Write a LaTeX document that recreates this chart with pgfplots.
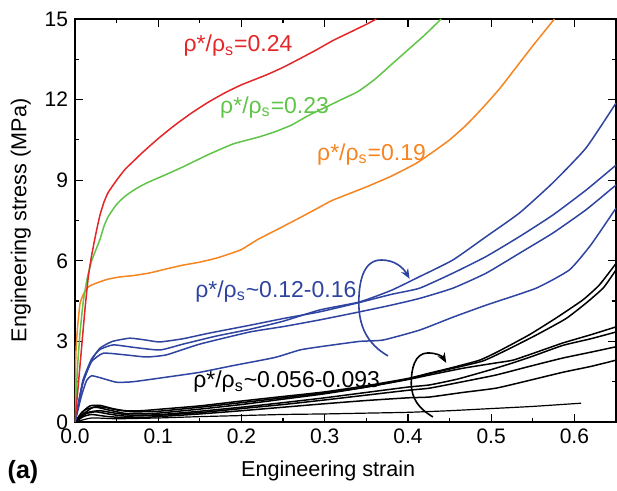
\documentclass[border=0pt]{standalone}
\usepackage{pgfplots}
\pgfplotsset{compat=1.18}
\usepackage{fontspec}
\setmainfont{Liberation Sans}
\usetikzlibrary{arrows.meta}
\definecolor{cred}{RGB}{228,38,40}
\definecolor{cgreen}{RGB}{96,196,72}
\definecolor{corange}{RGB}{246,132,32}
\definecolor{cblue}{RGB}{46,68,160}
\begin{document}
\begin{tikzpicture}
\begin{axis}[
  name=ax,
  scale only axis, width=270.5pt, height=201.5pt,
  xmin=0, xmax=0.65, ymin=0, ymax=15,
  xtick={0,0.1,0.2,0.3,0.4,0.5,0.6},
  ytick={0,3,6,9,12,15},
  minor x tick num=1, minor y tick num=1,
  tick align=inside,
  major tick length=4pt, minor tick length=2pt,
  axis line style={line width=0.8pt},
  every tick/.style={black, line width=0.6pt},
  /pgf/number format/assume math mode=true,
  xticklabel style={/pgf/number format/.cd, fixed, fixed zerofill, precision=1},
  yticklabel style={/pgf/number format/.cd, fixed, precision=0},
  every tick label/.append style={font=\fontsize{10.5}{12}\selectfont},
  xlabel={Engineering strain},
  ylabel={Engineering stress (MPa)},
  label style={font=\fontsize{10.8}{13}\selectfont},
  xlabel style={at={(axis description cs:0.468,-0.134)}, anchor=base},
  ylabel style={at={(axis description cs:-0.100,0.5)}, anchor=center},
  clip=true,
  every axis plot/.append style={line width=0.75pt, line join=round, smooth, tension=0.3},
]
% black curves
\addplot[black] coordinates {(0,0) (0.008,0.35) (0.018,0.6) (0.03,0.62) (0.045,0.5) (0.06,0.42) (0.08,0.42) (0.1,0.47) (0.15,0.6) (0.2,0.78) (0.25,0.95) (0.3,1.12) (0.35,1.35) (0.4,1.62) (0.426,1.82) (0.45,2.0) (0.486,2.3) (0.51,2.65) (0.546,3.25) (0.578,3.87) (0.61,4.54) (0.63,5.1) (0.65,5.9)};
\addplot[black] coordinates {(0,0) (0.01,0.3) (0.022,0.55) (0.035,0.55) (0.05,0.45) (0.07,0.38) (0.1,0.4) (0.15,0.55) (0.2,0.72) (0.25,0.9) (0.3,1.08) (0.35,1.3) (0.4,1.6) (0.426,1.8) (0.45,1.97) (0.49,2.27) (0.52,2.7) (0.555,3.25) (0.59,3.85) (0.615,4.45) (0.635,5.0) (0.65,5.66)};
\addplot[black] coordinates {(0,0) (0.012,0.45) (0.025,0.55) (0.04,0.45) (0.06,0.32) (0.08,0.3) (0.1,0.33) (0.15,0.48) (0.2,0.65) (0.25,0.85) (0.3,1.05) (0.35,1.3) (0.4,1.58) (0.426,1.75) (0.466,2.0) (0.506,2.2) (0.526,2.3) (0.55,2.55) (0.586,2.94) (0.62,3.25) (0.65,3.54)};
\addplot[black] coordinates {(0,0) (0.015,0.35) (0.03,0.42) (0.05,0.32) (0.07,0.25) (0.1,0.27) (0.15,0.4) (0.2,0.55) (0.25,0.72) (0.3,0.9) (0.35,1.1) (0.4,1.3) (0.426,1.38) (0.46,1.6) (0.5,1.95) (0.526,2.2) (0.55,2.45) (0.586,2.85) (0.62,3.1) (0.65,3.35)};
\addplot[black] coordinates {(0,0) (0.012,0.3) (0.025,0.38) (0.04,0.3) (0.06,0.22) (0.1,0.25) (0.15,0.35) (0.2,0.5) (0.25,0.65) (0.3,0.82) (0.35,1.0) (0.4,1.18) (0.426,1.26) (0.466,1.5) (0.506,1.75) (0.546,2.07) (0.586,2.38) (0.62,2.6) (0.65,2.8)};
\addplot[black] coordinates {(0,0) (0.01,0.2) (0.02,0.28) (0.04,0.2) (0.07,0.15) (0.1,0.2) (0.15,0.3) (0.2,0.42) (0.25,0.55) (0.3,0.68) (0.35,0.8) (0.4,0.9) (0.426,0.93) (0.466,1.1) (0.506,1.26) (0.546,1.55) (0.586,1.85) (0.62,2.07) (0.65,2.3)};
\addplot[black, line width=0.6pt] coordinates {(0,0) (0.02,0.15) (0.05,0.12) (0.1,0.15) (0.15,0.2) (0.2,0.24) (0.25,0.28) (0.3,0.3) (0.35,0.33) (0.4,0.36) (0.45,0.42) (0.5,0.5) (0.55,0.58) (0.608,0.7)};
% blue curves
\addplot[cblue] coordinates {(0,0) (0.005,0.8) (0.01,1.5) (0.02,2.3) (0.03,2.75) (0.045,3.0) (0.066,3.12) (0.085,3.05) (0.102,2.98) (0.13,3.1) (0.16,3.3) (0.21,3.6) (0.25,3.85) (0.294,4.1) (0.342,4.45) (0.38,4.75) (0.414,4.98) (0.454,5.54) (0.494,6.16) (0.534,6.9) (0.574,7.7) (0.614,8.63) (0.65,9.56)};
\addplot[cblue] coordinates {(0,0) (0.005,0.85) (0.01,1.6) (0.02,2.35) (0.03,2.7) (0.046,2.87) (0.07,2.78) (0.102,2.68) (0.13,2.9) (0.17,3.2) (0.21,3.45) (0.25,3.75) (0.294,4.17) (0.342,4.47) (0.38,4.9) (0.414,5.41) (0.454,6.03) (0.494,6.9) (0.534,7.78) (0.574,8.9) (0.614,10.2) (0.65,11.87)};
\addplot[cblue] coordinates {(0,0) (0.005,0.8) (0.01,1.55) (0.02,2.25) (0.034,2.56) (0.06,2.5) (0.086,2.42) (0.11,2.5) (0.15,2.9) (0.21,3.35) (0.25,3.55) (0.294,3.8) (0.342,4.1) (0.38,4.35) (0.414,4.6) (0.454,4.98) (0.494,5.54) (0.534,6.28) (0.574,7.03) (0.614,7.9) (0.65,8.82)};
\addplot[cblue] coordinates {(0,0) (0.008,1.0) (0.014,1.55) (0.02,1.72) (0.03,1.65) (0.05,1.48) (0.07,1.5) (0.11,1.67) (0.15,1.85) (0.19,2.1) (0.24,2.4) (0.27,2.68) (0.294,2.8) (0.342,3.0) (0.37,3.05) (0.414,3.42) (0.454,3.9) (0.494,4.35) (0.554,4.98) (0.594,5.66) (0.62,6.6) (0.65,7.96)};
% orange
\addplot[corange] coordinates {(0,0) (0.001,2.5) (0.003,3.5) (0.006,4.4) (0.01,4.75) (0.015,5.0) (0.02,5.1) (0.03,5.22) (0.04,5.32) (0.054,5.4) (0.07,5.45) (0.09,5.55) (0.11,5.7) (0.13,5.84) (0.15,5.95) (0.17,6.1) (0.185,6.25) (0.2,6.42) (0.22,6.8) (0.242,7.15) (0.27,7.6) (0.294,8.0) (0.31,8.26) (0.35,8.75) (0.38,9.15) (0.41,9.63) (0.43,10.05) (0.45,10.5) (0.47,11.05) (0.49,11.7) (0.51,12.4) (0.53,13.2) (0.55,14.0) (0.576,15.0)};
% green
\addplot[cgreen] coordinates {(0,0) (0.003,2.0) (0.006,3.3) (0.01,4.5) (0.015,5.4) (0.02,6.0) (0.025,6.4) (0.03,6.8) (0.035,7.3) (0.04,7.65) (0.05,8.1) (0.06,8.4) (0.07,8.62) (0.08,8.8) (0.09,8.95) (0.11,9.22) (0.13,9.5) (0.16,9.95) (0.19,10.35) (0.22,10.6) (0.24,10.8) (0.26,11.05) (0.28,11.4) (0.3,11.7) (0.32,12.0) (0.34,12.3) (0.36,12.75) (0.38,13.3) (0.4,13.85) (0.42,14.4) (0.44,15.0)};
% red
\addplot[cred] coordinates {(0,0) (0.004,1.4) (0.008,2.8) (0.012,4.2) (0.016,5.4) (0.02,6.2) (0.025,7.0) (0.03,7.7) (0.035,8.2) (0.04,8.55) (0.05,9.0) (0.06,9.4) (0.07,9.7) (0.08,10.0) (0.1,10.55) (0.12,11.05) (0.14,11.5) (0.16,11.9) (0.18,12.25) (0.2,12.55) (0.23,12.92) (0.25,13.2) (0.27,13.52) (0.29,13.85) (0.31,14.2) (0.33,14.5) (0.35,14.8) (0.362,15.0)};
% annotations
\node[cred, anchor=base west, inner sep=0pt, font=\fontsize{11.5}{13}\selectfont] at (axis cs:0.130,13.78) {ρ*/ρ\textsubscript{s}=0.24};
\node[cgreen, anchor=base west, inner sep=0pt, font=\fontsize{11.5}{13}\selectfont] at (axis cs:0.174,11.49) {ρ*/ρ\textsubscript{s}=0.23};
\node[corange, anchor=base west, inner sep=0pt, font=\fontsize{11.5}{13}\selectfont] at (axis cs:0.2905,9.75) {ρ*/ρ\textsubscript{s}=0.19};
\node[cblue, anchor=base west, inner sep=0pt, font=\fontsize{11.5}{13}\selectfont] at (axis cs:0.144,4.64) {ρ*/ρ\textsubscript{s}\textasciitilde 0.12-0.16};
\node[black, anchor=base west, inner sep=0pt, font=\fontsize{11.5}{13}\selectfont] at (axis cs:0.1416,1.27) {ρ*/ρ\textsubscript{s}\textasciitilde 0.056-0.093};
\draw[cblue, line width=0.8pt, -{Stealth[length=5pt,width=4pt]}] (axis cs:0.376,2.46) to[out=150,in=-90] (axis cs:0.341,4.43) to[out=90,in=180] (axis cs:0.368,6.03) to[out=0,in=120] (axis cs:0.402,5.33);
\draw[black, line width=0.8pt, -{Stealth[length=5pt,width=4pt]}] (axis cs:0.43,0.19) to[out=150,in=-90] (axis cs:0.404,1.45) to[out=90,in=180] (axis cs:0.424,2.57) to[out=0,in=120] (axis cs:0.446,2.2);
\end{axis}
\node[anchor=base, font=\bfseries\fontsize{12.5}{14}\selectfont] at ([shift={(-26pt,-28.5pt)}]ax.south west) {(a)};
\path ([shift={(-37.5pt,-32.5pt)}]ax.south west) rectangle ([shift={(0.5pt,9.5pt)}]ax.north east);
\end{tikzpicture}
\end{document}
